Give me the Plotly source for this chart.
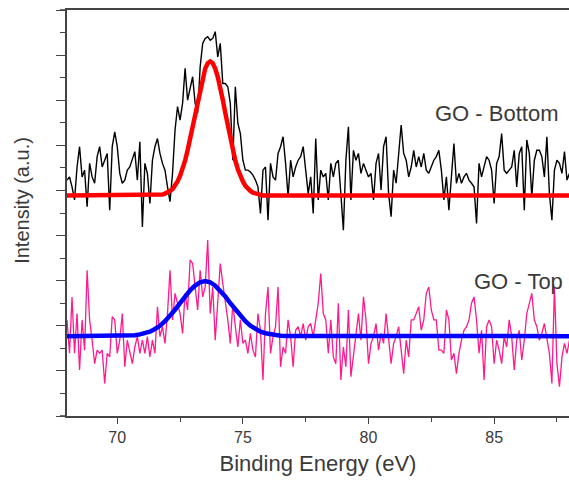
import plotly.graph_objects as go

# ---------------- data ----------------
energy_start = 68.0
energy_step = 0.1

# GO - Bottom raw spectrum (a.u.), 68.0 .. 88.0 eV every 0.1 eV
go_bottom = [
    52.3, 53.0, 50.8, 47.9, 55.2, 59.7, 53.0, 54.5, 46.4, 56.0,
    53.0, 51.6, 57.5, 59.7, 55.2, 56.7, 58.2, 45.6, 59.7, 63.0,
    59.7, 53.8, 51.6, 52.3, 54.5, 55.2, 56.7, 58.6, 52.3, 60.8,
    41.9, 56.0, 53.8, 47.1, 56.7, 59.7, 61.5, 58.2, 56.0, 54.5,
    50.8, 47.5, 53.8, 63.4, 68.6, 65.6, 69.3, 77.1, 70.0, 72.3,
    75.2, 69.3, 67.1, 77.4, 82.6, 83.7, 84.1, 83.3, 83.7, 85.2,
    79.6, 82.6, 73.7, 73.7, 73.0, 69.3, 56.7, 73.0, 64.9, 62.6,
    56.7, 54.5, 54.5, 54.1, 53.4, 52.3, 50.8, 44.9, 54.5, 55.2,
    43.4, 56.0, 53.0, 52.3, 58.2, 59.7, 61.9, 56.0, 48.6, 56.7,
    53.0, 55.2, 56.7, 57.5, 59.7, 54.5, 49.3, 53.0, 44.9, 61.5,
    47.9, 54.5, 53.0, 53.8, 47.9, 56.0, 53.0, 56.0, 56.7, 49.3,
    41.2, 56.7, 64.1, 47.9, 58.9, 56.7, 58.2, 53.8, 56.0, 54.5,
    53.0, 53.8, 47.9, 56.0, 58.2, 50.1, 59.7, 61.9, 49.3, 44.2,
    54.5, 51.6, 58.2, 64.5, 58.2, 56.7, 53.0, 55.2, 58.9, 55.2,
    57.5, 55.2, 58.2, 54.5, 53.8, 55.2, 56.7, 57.5, 58.9, 54.5,
    47.9,
    53.0, 45.6, 53.0, 60.4, 51.6, 53.8, 51.6, 53.0, 53.8, 52.3,
    51.6, 50.8, 42.7, 56.0, 53.0, 55.2, 57.5, 56.7, 54.5, 47.1,
    56.0, 57.5, 62.6, 54.5, 53.8, 54.5, 55.2, 58.9, 50.8, 58.2,
    59.7, 45.6, 61.2, 58.2, 48.6, 56.7, 58.9, 58.9, 57.5, 53.0,
    61.9, 49.3, 43.4, 54.5, 56.7, 56.0, 53.8, 58.6, 52.3, 53.8,
]

# GO - Top raw spectrum (a.u.), 68.0 .. 88.0 eV every 0.1 eV
go_top = [
    21.3, 13.9, 26.4, 13.9, 22.7, 10.2, 21.3, 14.6, 32.3, 21.3,
    16.8, 11.6, 14.6, 13.9, 14.6, 7.2, 13.9, 13.1, 22.0, 21.3,
    13.9, 16.8, 22.7, 10.9, 16.8, 13.9, 11.6, 15.3, 17.6, 13.9,
    16.8, 13.9, 17.6, 13.1, 16.8, 13.9, 24.2, 17.6, 19.8, 16.1,
    22.7, 32.3, 21.3, 27.2, 25.0, 22.7, 18.3, 27.2, 23.5, 34.6,
    33.8, 28.6, 23.5, 32.3, 26.4, 28.6, 39.0, 22.7, 28.6, 16.8,
    26.4, 33.8, 29.4, 25.7, 21.3, 16.1, 25.0, 19.8, 15.3, 21.3,
    16.1, 16.8, 13.9, 18.3, 14.6, 13.1, 22.7, 19.0, 8.0, 22.7,
    28.6, 13.9, 17.6, 19.8, 28.6, 10.9, 15.3, 13.9, 21.3, 17.6,
    10.9, 19.0, 19.8, 17.6, 20.5, 16.8, 19.8, 20.5, 17.6, 21.3,
    25.0, 31.6, 22.7, 21.3, 13.9, 21.3, 13.1, 11.6, 25.0, 8.0,
    15.3, 10.9, 23.5, 8.7, 13.9, 17.6, 22.7, 16.8, 26.4, 21.3,
    11.6, 16.1, 17.6, 20.5, 14.6, 18.3, 16.1, 22.7, 16.8, 11.6,
    16.1, 17.6, 19.8, 13.9, 9.4, 16.8, 13.1, 21.3, 21.3, 22.7,
    24.2, 19.0, 21.3, 27.2, 28.6, 23.5, 21.3, 21.3, 14.6, 14.6,
    13.9, 23.5, 21.3, 12.4, 13.9, 9.4, 13.9, 16.8, 19.0, 19.8,
    21.3, 25.0, 26.4, 21.3, 13.9, 19.0, 8.0, 19.8, 21.3, 19.8,
    11.6, 16.8, 14.6, 11.6, 17.6, 15.3, 21.3, 17.6, 10.2, 16.8,
    19.0, 12.4, 16.8, 22.7, 25.0, 27.2, 21.3, 19.8, 16.8, 18.3,
    20.5, 16.8, 13.9, 7.2, 28.6, 11.6, 6.5, 13.1, 16.1, 13.9,
    16.8,
]

# Fitted peak (GO - Bottom)
fit_bottom_energy = [68.0, 71.5, 71.6, 71.7, 71.8, 71.9, 72.0, 72.1, 72.2, 72.3,
                     72.4, 72.5, 72.6, 72.7, 72.8, 72.9, 73.0, 73.1, 73.2, 73.3,
                     73.4, 73.5, 73.6, 73.7, 73.8, 73.9, 74.0, 74.1, 74.2, 74.3,
                     74.4, 74.5, 74.6, 74.7, 74.8, 74.9, 75.0, 75.1, 75.2, 75.3,
                     75.4, 75.5, 75.6, 75.7, 75.8, 88.0]
fit_bottom = [48.9, 48.9, 48.9, 49.0, 49.1, 49.3, 49.5, 49.9, 50.3, 51.0,
              52.0, 53.2, 54.7, 56.6, 58.9, 61.5, 64.3, 67.2, 70.1, 72.9,
              75.2, 77.0, 78.2, 78.6, 78.2, 77.0, 75.2, 72.9, 70.1, 67.2,
              64.3, 61.5, 58.9, 56.6, 54.7, 53.2, 52.0, 51.0, 50.3, 49.9,
              49.5, 49.3, 49.1, 49.0, 48.9, 48.9]

# Fitted peak (GO - Top)
fit_top_energy = [68.0, 70.3, 70.5, 70.7, 70.9, 71.1, 71.3, 71.5, 71.7, 71.9,
                  72.1, 72.3, 72.5, 72.7, 72.9, 73.1, 73.3, 73.5, 73.7, 73.9,
                  74.1, 74.3, 74.5, 74.7, 74.9, 75.1, 75.3, 75.5, 75.7, 75.9,
                  76.1, 76.3, 76.5, 76.7, 88.0]
fit_top = [17.7, 17.75, 17.8, 17.9, 18.1, 18.35, 18.7, 19.3, 20.0, 21.0,
           22.2, 23.55, 25.0, 26.5, 27.85, 28.9, 29.65, 29.9, 29.65, 28.9,
           27.85, 26.5, 25.0, 23.55, 22.2, 21.0, 20.0, 19.3, 18.7, 18.35,
           18.1, 17.9, 17.8, 17.75, 17.7]

x_ticks = [70, 75, 80, 85]
x_tick_labels = ["70", "75", "80", "85"]

labels = ["GO - Bottom", "GO - Top"]
label_x = [85.1, 85.95]
label_y = [67.1, 29.9]

energy = [round(energy_start + energy_step * i, 2) for i in range(len(go_bottom))]
energy_top = [round(energy_start + energy_step * i, 2) for i in range(len(go_top))]

# ---------------- figure ----------------
FONT = "Arial, 'Liberation Sans', sans-serif"
TXT = "#3a3a3a"
AX = "#444444"

fig = go.Figure()
fig.add_trace(go.Scatter(x=energy, y=go_bottom, mode="lines",
                         line=dict(color="black", width=1.4),
                         showlegend=False, hoverinfo="skip"))
fig.add_trace(go.Scatter(x=fit_bottom_energy, y=fit_bottom, mode="lines",
                         line=dict(color="#ff0000", width=4.5),
                         showlegend=False, hoverinfo="skip"))
fig.add_trace(go.Scatter(x=energy_top, y=go_top, mode="lines",
                         line=dict(color="#ff1a8c", width=1.3),
                         showlegend=False, hoverinfo="skip"))
fig.add_trace(go.Scatter(x=fit_top_energy, y=fit_top, mode="lines",
                         line=dict(color="#0000ff", width=4.5),
                         showlegend=False, hoverinfo="skip"))

for t, xx, yy in zip(labels, label_x, label_y):
    fig.add_annotation(x=xx, y=yy, xref="x", yref="y", text=t, showarrow=False,
                       font=dict(family=FONT, size=22, color=TXT),
                       xanchor="center", yanchor="middle")

fig.add_annotation(x=-0.0896, y=0.53, xref="paper", yref="paper",
                   text="Intensity (a.u.)", textangle=-90, showarrow=False,
                   font=dict(family=FONT, size=20, color=TXT),
                   xanchor="center", yanchor="middle")

# little axis-line extensions to the left of the y-axis (Origin style)
for yy in (0, 1):
    fig.add_shape(type="line", xref="paper", yref="paper",
                  x0=-0.014, x1=0, y0=yy, y1=yy,
                  line=dict(color=AX, width=1.6))

fig.update_layout(
    width=569, height=480,
    margin=dict(l=67, r=0, t=10, b=64),
    paper_bgcolor="white", plot_bgcolor="white",
    xaxis=dict(
        range=[68.0, 87.98], showgrid=False, zeroline=False,
        showline=True, linecolor=AX, linewidth=1.6, mirror=True,
        tickmode="array", tickvals=x_ticks, ticktext=x_tick_labels,
        ticks="outside", ticklen=6, tickwidth=1.3, tickcolor=AX,
        minor=dict(tickmode="linear", tick0=67.5, dtick=2.5, ticks="outside",
                   ticklen=4, tickwidth=1.2, tickcolor=AX, showgrid=False),
        tickfont=dict(family=FONT, size=16, color=TXT),
        title=dict(text="Binding Energy (eV)", standoff=11,
                   font=dict(family=FONT, size=22, color=TXT)),
    ),
    yaxis=dict(
        range=[0, 90], showgrid=False, zeroline=False,
        showline=True, linecolor=AX, linewidth=1.6, mirror=False,
        tickmode="linear", tick0=0, dtick=10,
        ticks="outside", ticklen=9, tickwidth=1.3, tickcolor=AX,
        showticklabels=False,
        minor=dict(tickmode="linear", tick0=0, dtick=5, ticks="outside",
                   ticklen=5, tickwidth=1.2, tickcolor=AX, showgrid=False),
    ),
)

fig.write_html("out.html")
